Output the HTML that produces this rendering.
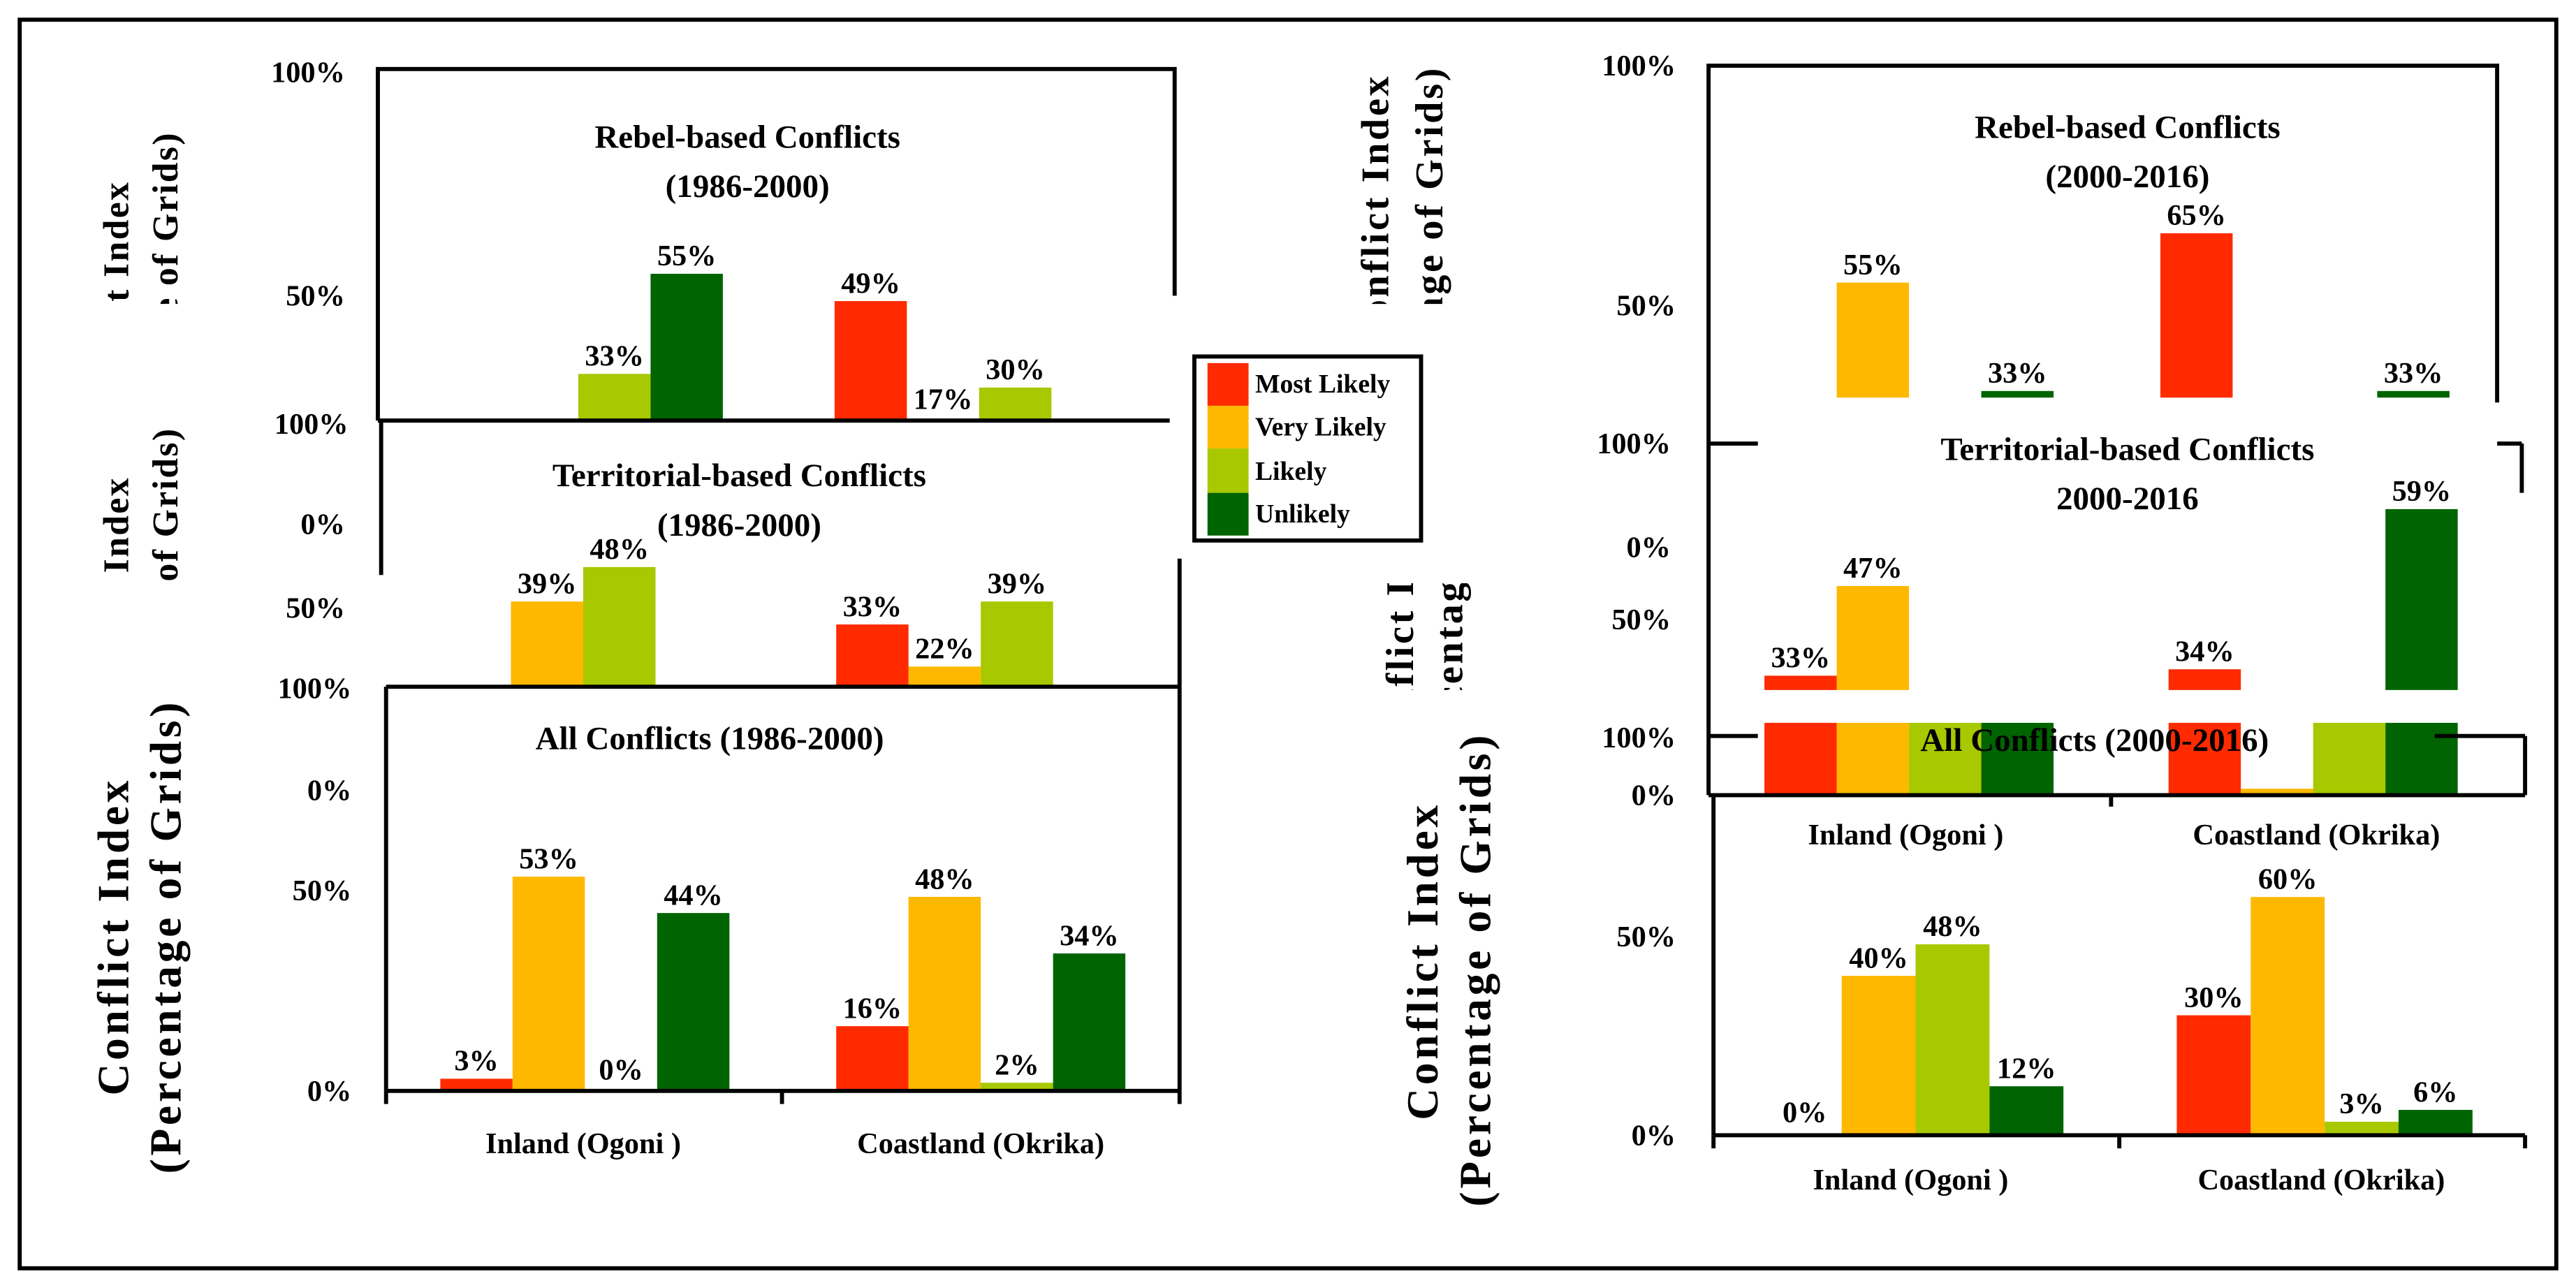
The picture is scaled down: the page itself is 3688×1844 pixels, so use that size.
<!DOCTYPE html>
<html><head><meta charset="utf-8"><style>
html,body{margin:0;padding:0;background:#fff}
svg{display:block}
text{font-family:"Liberation Serif",serif;font-weight:bold;fill:#000}
</style></head><body>
<svg id="chart" width="3688" height="1844" viewBox="0 0 1568 784" preserveAspectRatio="none" xmlns="http://www.w3.org/2000/svg">
<defs>
<clipPath id="cyl1"><rect x="40" y="40" width="80" height="145"/></clipPath>
<clipPath id="cyl2"><rect x="40" y="258" width="80" height="97"/></clipPath>
<clipPath id="cyr1"><rect x="820" y="35" width="70" height="150"/></clipPath>
<clipPath id="cyr2"><rect x="820" y="355" width="100" height="65"/></clipPath>
</defs>
<rect x="12" y="12" width="1544" height="760" fill="none" stroke="#000" stroke-width="2.5"/>
<g id="bars"></g>
<g stroke="#000" stroke-width="2.5" fill="none">
<polyline points="230,256 230,42 715,42 715,180"/>
<line x1="230" y1="256" x2="712" y2="256"/>
<line x1="232" y1="256" x2="232" y2="350"/>
<line x1="718" y1="340" x2="718" y2="418"/>
<line x1="235" y1="418" x2="718" y2="418"/>
<line x1="235" y1="418" x2="235" y2="664"/>
<line x1="718" y1="418" x2="718" y2="664"/>
<line x1="235" y1="664" x2="718" y2="664"/>
<line x1="235" y1="664" x2="235" y2="672"/><line x1="476" y1="664" x2="476" y2="672"/><line x1="718" y1="664" x2="718" y2="672"/>
<polyline points="1040,484 1040,40 1520,40 1520,245"/>
<line x1="1040" y1="270" x2="1070" y2="270"/><line x1="1520" y1="270" x2="1535" y2="270"/>
<line x1="1535" y1="270" x2="1535" y2="300"/>
<line x1="1040" y1="448" x2="1070" y2="448"/><line x1="1482" y1="448" x2="1537" y2="448"/>
<line x1="1537" y1="448" x2="1537" y2="484"/>
<line x1="1040" y1="484" x2="1537" y2="484"/>
<line x1="1285" y1="484" x2="1285" y2="491"/>
<line x1="1043" y1="484" x2="1043" y2="691"/>
<line x1="1043" y1="691" x2="1537" y2="691"/>
<line x1="1043" y1="691" x2="1043" y2="699"/><line x1="1290" y1="691" x2="1290" y2="699"/><line x1="1537" y1="691" x2="1537" y2="699"/>
</g>
<g font-size="18" text-anchor="end">
<text x="210" y="50">100%</text><text x="210" y="186">50%</text><text x="212" y="264">100%</text>
<text x="210" y="325">0%</text><text x="210" y="376">50%</text><text x="214" y="425">100%</text>
<text x="214" y="487">0%</text><text x="214" y="548">50%</text><text x="214" y="670">0%</text>
<text x="1020" y="46">100%</text><text x="1020" y="192">50%</text><text x="1017" y="276">100%</text>
<text x="1017" y="339">0%</text><text x="1017" y="383">50%</text><text x="1020" y="455">100%</text>
<text x="1020" y="490">0%</text><text x="1020" y="576">50%</text><text x="1020" y="697">0%</text>
</g>
<g font-size="20" text-anchor="middle">
<text x="455" y="90">Rebel-based Conflicts</text><text x="455" y="120">(1986-2000)</text>
<text x="450" y="296">Territorial-based Conflicts</text><text x="450" y="326">(1986-2000)</text>
<text x="432" y="456">All Conflicts (1986-2000)</text>
<text x="1295" y="84">Rebel-based Conflicts</text><text x="1295" y="114">(2000-2016)</text>
<text x="1295" y="280">Territorial-based Conflicts</text><text x="1295" y="310">2000-2016</text>
<text x="1275" y="457">All Conflicts (2000-2016)</text>
</g>
<g font-size="18" text-anchor="middle">
<text x="355" y="702">Inland (Ogoni )</text><text x="597" y="702">Coastland (Okrika)</text>
<text x="1160" y="514">Inland (Ogoni )</text><text x="1410" y="514">Coastland (Okrika)</text>
<text x="1163" y="724">Inland (Ogoni )</text><text x="1413" y="724">Coastland (Okrika)</text>
</g>
<g>
<g font-size="22" letter-spacing="1" clip-path="url(#cyl1)"><text transform="translate(78,110) rotate(-90)" text-anchor="end">Conflict Index</text><text transform="translate(108,80) rotate(-90)" text-anchor="end">(Percentage of Grids)</text></g>
<g font-size="22" letter-spacing="1" clip-path="url(#cyl2)"><text transform="translate(78,290) rotate(-90)" text-anchor="end">Conflict Index</text><text transform="translate(108,260) rotate(-90)" text-anchor="end">(Percentage of Grids)</text></g>
<g font-size="27" letter-spacing="2">
<text transform="translate(78,570) rotate(-90)" text-anchor="middle">Conflict Index</text>
<text transform="translate(110,570) rotate(-90)" text-anchor="middle">(Percentage of Grids)</text>
<text transform="translate(875,585) rotate(-90)" text-anchor="middle">Conflict Index</text>
<text transform="translate(907,590) rotate(-90)" text-anchor="middle">(Percentage of Grids)</text>
</g>
<g font-size="24" letter-spacing="1.5" clip-path="url(#cyr1)"><text transform="translate(845,45) rotate(-90)" text-anchor="end">Conflict Index</text><text transform="translate(878,40) rotate(-90)" text-anchor="end">(Percentage of Grids)</text></g>
<g font-size="24" letter-spacing="1.5" clip-path="url(#cyr2)"><text transform="translate(860,465) rotate(-90)">Conflict Index</text><text transform="translate(890,478) rotate(-90)">(Percentage of Grids)</text></g>
</g>
<g>
<rect x="727" y="217" width="138" height="112" fill="#fff" stroke="#000" stroke-width="2.5"/>
<rect x="735" y="221" width="25" height="26" fill="#FF2A00"/>
<rect x="735" y="247" width="25" height="26" fill="#FFB800"/>
<rect x="735" y="273" width="25" height="27" fill="#A8C800"/>
<rect x="735" y="300" width="25" height="26" fill="#006400"/>
<g font-size="16"><text x="764" y="239">Most Likely</text><text x="764" y="265">Very Likely</text><text x="764" y="292">Likely</text><text x="764" y="318">Unlikely</text></g>
</g>
</svg>
<script>
const categories = ["Inland (Ogoni )", "Coastland (Okrika)"];
const seriesNames = ["Most Likely", "Very Likely", "Likely", "Unlikely"];
const rebel1986Inland = [0, 0, 33, 55];
const rebel1986Coast = [49, 17, 30, 0];
const terr1986Inland = [0, 39, 48, 0];
const terr1986Coast = [33, 22, 39, 0];
const all1986Inland = [3, 53, 0, 44];
const all1986Coast = [16, 48, 2, 34];
const rebel2000Inland = [0, 55, 0, 33];
const rebel2000Coast = [65, 0, 0, 33];
const terr2000Inland = [33, 47, 20, 20];
const terr2000Coast = [34, 1, 20, 59];
const all2000Inland = [0, 40, 48, 12];
const all2000Coast = [30, 60, 3, 6];
const colors = ["#FF2A00", "#FFB800", "#A8C800", "#006400"];

const NS = "http://www.w3.org/2000/svg";
const g = document.getElementById("bars");
function drawPanel(name, data, starts, zero, per, clipTop, clipBot, bw, labels) {
  const cid = "clip-" + name;
  const cp = document.createElementNS(NS, "clipPath");
  cp.setAttribute("id", cid);
  const cr = document.createElementNS(NS, "rect");
  cr.setAttribute("x", 0); cr.setAttribute("y", clipTop);
  cr.setAttribute("width", 1568); cr.setAttribute("height", clipBot - clipTop);
  cp.appendChild(cr);
  document.querySelector("defs").appendChild(cp);
  const pg = document.createElementNS(NS, "g");
  pg.setAttribute("clip-path", "url(#" + cid + ")");
  
  
  g.appendChild(pg);
  data.forEach((vals, ci) => {
    vals.forEach((v, si) => {
      const x = starts[ci] + si * bw;
      const top = zero - v * per;
      const r = document.createElementNS(NS, "rect");
      
      
      r.setAttribute("x", x); r.setAttribute("y", top);
      r.setAttribute("width", bw); r.setAttribute("height", Math.max(0, v * per));
      r.setAttribute("fill", colors[si]);
      pg.appendChild(r);
      if (labels && top <= clipBot + 20) {
        const t = document.createElementNS(NS, "text");
        
        
        t.setAttribute("x", x + bw / 2);
        t.setAttribute("y", Math.min(top, clipBot - 2) - 5);
        t.setAttribute("text-anchor", "middle");
        t.setAttribute("font-size", "18");
        t.textContent = v + "%";
        g.appendChild(t);
      }
    });
  });
}
drawPanel("rebel-1986", [rebel1986Inland, rebel1986Coast], [264, 508], 319, 2.77, 42, 256, 44, true);
drawPanel("terr-1986", [terr1986Inland, terr1986Coast], [267, 509], 457, 2.33, 256, 418, 44, true);
drawPanel("all-1986", [all1986Inland, all1986Coast], [268, 509], 664, 2.46, 418, 664, 44, true);
drawPanel("rebel-2000", [rebel2000Inland, rebel2000Coast], [1074, 1315], 337, 3.0, 40, 242, 44, true);
drawPanel("terr-2000", [terr2000Inland, terr2000Coast], [1074, 1320], 540, 3.9, 242, 420, 44, true);
drawPanel("terr-2000-strip", [terr2000Inland, terr2000Coast], [1074, 1320], 484, 3.9, 440, 484, 44, false);
drawPanel("all-2000", [all2000Inland, all2000Coast], [1076, 1325], 690, 2.4, 484, 690, 45, true);
</script>
</body></html>
